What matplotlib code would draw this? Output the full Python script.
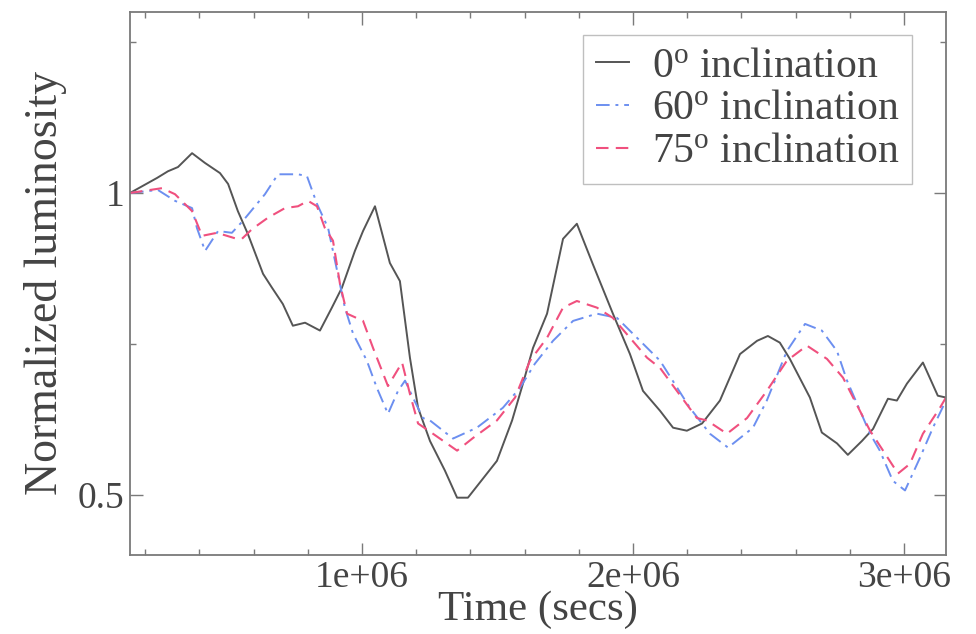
import numpy as np
import matplotlib
matplotlib.use("Agg")
import matplotlib.pyplot as plt
from matplotlib.ticker import MultipleLocator, FixedLocator, FuncFormatter

plt.rcParams["font.family"] = ["Liberation Serif", "DejaVu Serif"]
plt.rcParams["mathtext.fontset"] = "custom"
plt.rcParams["mathtext.rm"] = "Liberation Serif"
plt.rcParams["mathtext.it"] = "Liberation Serif:italic"

# Light curves (time in units of 1e6 s, luminosity normalised to t0)
t_0deg = [0.144, 0.244, 0.284, 0.321, 0.373, 0.420, 0.476, 0.506, 0.542, 0.579,
          0.635, 0.668, 0.708, 0.745, 0.790, 0.845, 0.889, 0.926, 0.974, 1.004,
          1.048, 1.103, 1.140, 1.177, 1.207, 1.251, 1.306, 1.351, 1.391, 1.498,
          1.554, 1.594, 1.631, 1.683, 1.742, 1.793, 1.852, 1.926, 1.989, 2.037,
          2.100, 2.148, 2.199, 2.255, 2.321, 2.395, 2.458, 2.498, 2.542, 2.579,
          2.653, 2.697, 2.753, 2.793, 2.845, 2.886, 2.941, 2.974, 3.011, 3.070,
          3.125, 3.155]
L_0deg = [1.000, 1.025, 1.036, 1.043, 1.066, 1.050, 1.033, 1.015, 0.970, 0.932,
          0.866, 0.843, 0.816, 0.780, 0.785, 0.772, 0.810, 0.843, 0.904, 0.937,
          0.978, 0.884, 0.854, 0.727, 0.644, 0.589, 0.540, 0.495, 0.495, 0.556,
          0.623, 0.684, 0.743, 0.800, 0.924, 0.949, 0.882, 0.800, 0.733, 0.672,
          0.639, 0.611, 0.606, 0.618, 0.656, 0.733, 0.755, 0.763, 0.752, 0.725,
          0.661, 0.603, 0.585, 0.566, 0.589, 0.609, 0.659, 0.656, 0.684, 0.719,
          0.664, 0.661]

t_60deg = [0.144, 0.247, 0.310, 0.373, 0.391, 0.421, 0.469, 0.520, 0.561, 0.642,
           0.690, 0.764, 0.797, 0.834, 0.875, 0.937, 0.967, 1.018, 1.055, 1.096,
           1.133, 1.159, 1.188, 1.225, 1.251, 1.336, 1.424, 1.520, 1.583, 1.638,
           1.705, 1.779, 1.867, 1.941, 2.015, 2.100, 2.210, 2.284, 2.351, 2.443,
           2.494, 2.568, 2.635, 2.697, 2.753, 2.790, 2.875, 2.911, 2.959, 3.004,
           3.059, 3.107, 3.155]
L_60deg = [1.000, 1.005, 0.987, 0.975, 0.942, 0.904, 0.937, 0.934, 0.954, 0.998,
           1.031, 1.031, 1.028, 0.982, 0.942, 0.810, 0.767, 0.722, 0.677, 0.634,
           0.672, 0.689, 0.661, 0.627, 0.623, 0.593, 0.611, 0.644, 0.677, 0.717,
           0.755, 0.788, 0.800, 0.793, 0.760, 0.722, 0.644, 0.601, 0.578, 0.611,
           0.656, 0.738, 0.783, 0.772, 0.738, 0.689, 0.601, 0.573, 0.523, 0.507,
           0.561, 0.611, 0.656]

t_75deg = [0.144, 0.262, 0.310, 0.373, 0.410, 0.465, 0.531, 0.557, 0.594, 0.653,
           0.716, 0.764, 0.801, 0.834, 0.863, 0.893, 0.919, 0.945, 1.004, 1.041,
           1.096, 1.148, 1.177, 1.207, 1.262, 1.351, 1.410, 1.498, 1.565, 1.620,
           1.683, 1.742, 1.793, 1.867, 1.926, 1.989, 2.052, 2.100, 2.162, 2.236,
           2.273, 2.347, 2.421, 2.494, 2.568, 2.642, 2.716, 2.775, 2.875, 2.923,
           2.978, 3.022, 3.070, 3.133, 3.155]
L_75deg = [1.000, 1.008, 0.998, 0.970, 0.929, 0.934, 0.925, 0.924, 0.940, 0.959,
           0.975, 0.978, 0.987, 0.978, 0.942, 0.921, 0.849, 0.800, 0.788, 0.743,
           0.680, 0.719, 0.667, 0.618, 0.601, 0.573, 0.594, 0.623, 0.661, 0.722,
           0.760, 0.810, 0.821, 0.810, 0.793, 0.760, 0.727, 0.710, 0.672, 0.627,
           0.623, 0.601, 0.627, 0.672, 0.722, 0.747, 0.725, 0.694, 0.606, 0.573,
           0.535, 0.551, 0.601, 0.644, 0.661]

labels = ["0$^\\mathrm{o}$ inclination",
          "60$^\\mathrm{o}$ inclination",
          "75$^\\mathrm{o}$ inclination"]
x_major = [1e6, 2e6, 3e6]
y_major = [0.5, 1.0]

fig = plt.figure(figsize=(9.76, 6.34), dpi=100)
ax = fig.add_axes([0.1332, 0.1246, 0.8360, 0.8565])

axis_grey = "#7a7a7a"
text_grey = "#444444"

ax.plot(np.array(t_0deg) * 1e6, L_0deg, color="#555555", lw=1.4,
        label=labels[0])
ax.plot(np.array(t_60deg) * 1e6, L_60deg, color="#6c8ff0", lw=1.4,
        dashes=(7, 3, 1.5, 3), label=labels[1])
ax.plot(np.array(t_75deg) * 1e6, L_75deg, color="#f0507e", lw=1.5,
        dashes=(6, 3.5), label=labels[2])

ax.set_xlim(0.144e6, 3.155e6)
ax.set_ylim(0.4, 1.3)

ax.xaxis.set_major_locator(FixedLocator(x_major))
ax.xaxis.set_minor_locator(MultipleLocator(2e5))
ax.yaxis.set_major_locator(FixedLocator(y_major))
ax.yaxis.set_minor_locator(MultipleLocator(0.25))
ax.xaxis.set_major_formatter(FuncFormatter(lambda v, p: f"{v:.0e}"))
ax.yaxis.set_major_formatter(FuncFormatter(lambda v, p: f"{v:g}"))

ax.tick_params(which="both", direction="in", top=True, right=True,
               colors=axis_grey, labelcolor=text_grey, labelsize=27, width=1)
ax.tick_params(which="major", length=9, pad=4)
ax.tick_params(which="minor", length=4)
for s in ax.spines.values():
    s.set_color(axis_grey)
    s.set_linewidth(1.3)

ax.set_xlabel("Time (secs)", fontsize=31, color=text_grey, labelpad=-3)
ax.set_ylabel("Normalized luminosity", fontsize=33, color=text_grey, labelpad=8)

leg = ax.legend(loc="upper right", bbox_to_anchor=(0.958, 0.958), fontsize=30,
                frameon=True, fancybox=False, handlelength=0.8,
                handletextpad=0.55, borderpad=0.3, labelspacing=0.1,
                borderaxespad=0.0)
leg.get_frame().set_edgecolor("#b0b0b0")
leg.get_frame().set_linewidth(1.0)
for t in leg.get_texts():
    t.set_color(text_grey)

fig.savefig("out.png", dpi=100, facecolor="white")
